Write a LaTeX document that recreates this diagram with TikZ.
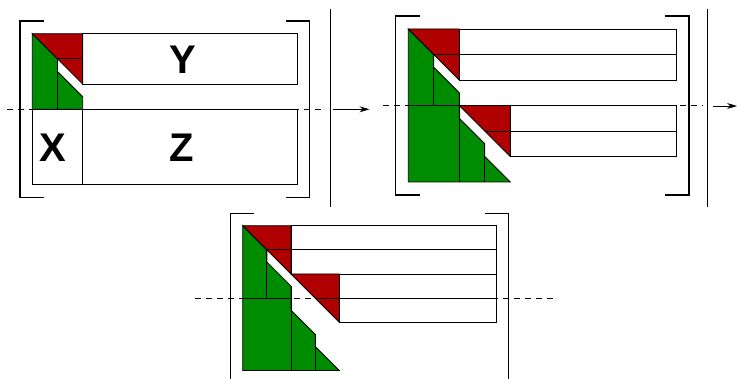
\documentclass[tikz,border=0pt]{standalone}
\usepackage{fontspec}
\setmainfont{Liberation Sans}
\usetikzlibrary{arrows.meta}
\definecolor{blkred}{RGB}{176,0,0}
\definecolor{blkgreen}{RGB}{0,140,0}
\tikzset{
  thinline/.style={line width=0.8pt,line join=miter},
  bracket/.style={line width=1.7pt,line join=miter},
  redtri/.style={fill=blkred,draw=black,line width=0.8pt},
  greenpart/.style={fill=blkgreen,draw=black,line width=0.8pt},
  boxline/.style={draw=black,line width=0.8pt},
  dashline/.style={line width=0.9pt,dash pattern=on 6pt off 5pt},
  sepline/.style={line width=1pt},
  flowarrow/.style={line width=0.8pt,-{Stealth[length=10pt,width=6pt]}},
  letter/.style={font=\fontsize{40}{40}\selectfont\bfseries,inner sep=0pt}
}
\newcommand\mybrackets{%
  \draw[bracket] (0.45,-0.5) -- (-0.5,-0.5) -- (-0.5,6.5) -- (0.45,6.5);
  \draw[bracket] (10.05,-0.5) -- (11,-0.5) -- (11,6.5) -- (10.05,6.5);
}
\newcommand\mygreen{%
  \filldraw[greenpart] (0,0) -- (1,1) -- (1,1.5) -- (2,2.5) -- (2,3.5) -- (3,4.5) -- (3,5) -- (4,6) -- (0,6) -- cycle;
  \draw[thinline] (0,3) -- (2,3);
  \draw[thinline] (1,1) -- (1,3);
  \draw[thinline] (2,2.5) -- (2,6);
  \draw[thinline] (3,4.5) -- (3,6);
}
\begin{document}
\begin{tikzpicture}[x=1pt,y=-1pt]
\useasboundingbox (0,0) rectangle (737,379);

% ---------- panel 1 ----------
\begin{scope}[shift={(32.3,33.7)},x=25.2pt,y=-25.2pt]
  \mybrackets
  \filldraw[greenpart] (0,0) -- (1,1) -- (1,1.5) -- (2,2.5) -- (2,3) -- (0,3) -- cycle;
  \filldraw[redtri] (0,0) -- (2,0) -- (2,2) -- cycle;
  \draw[thinline] (1,1) -- (2,1);
  \draw[thinline] (1,1) -- (1,3);
  \draw[boxline] (2,0) rectangle (10.5,2);
  \draw[boxline] (0,3) rectangle (2,6);
  \draw[boxline] (2,3) rectangle (10.5,6);
  \draw[dashline] (-1,3) -- (11.55,3);
  \node[letter] (Y) at (5.98,1.02) {Y};
  \node[letter] (Z) at (5.92,4.54) {Z};
  \node[letter] (X) at (0.83,4.54) {X};
\end{scope}

% ---------- panel 2 ----------
\begin{scope}[shift={(408.3,29)},x=25.5pt,y=-25.5pt]
  \mybrackets
  \mygreen
  \filldraw[redtri] (0,0) -- (2,0) -- (2,2) -- cycle;
  \draw[thinline] (1,1) -- (10.5,1);
  \draw[boxline] (2,0) rectangle (10.5,2);
  \filldraw[redtri] (2,3) -- (4,3) -- (4,5) -- cycle;
  \draw[thinline] (3,4) -- (10.5,4);
  \draw[boxline] (4,3) rectangle (10.5,5);
  \draw[dashline] (-1,3) -- (11.55,3);
\end{scope}

% ---------- panel 3 ----------
\begin{scope}[shift={(242.7,225.7)},x=24.15pt,y=-24.15pt]
  \mybrackets
  \mygreen
  \filldraw[redtri] (0,0) -- (2,0) -- (2,2) -- cycle;
  \draw[thinline] (1,1) -- (10.5,1);
  \draw[boxline] (2,0) rectangle (10.5,2);
  \filldraw[redtri] (2,2) -- (4,2) -- (4,4) -- cycle;
  \draw[thinline] (3,3) -- (10.5,3);
  \draw[boxline] (4,2) rectangle (10.5,4);
  \draw[dashline] (-1.97,3) -- (13,3);
\end{scope}

% ---------- separators and arrows ----------
\coordinate (s1t) at (330,9);
\coordinate (s1b) at (330,207);
\coordinate (s2t) at (707.7,9);
\coordinate (s2b) at (707.7,207);
\draw[sepline] (s1t) -- (s1b);
\draw[sepline] (s2t) -- (s2b);
\coordinate (a1s) at (333,109.3);
\coordinate (a1e) at (369.5,109.3);
\coordinate (a2s) at (712.7,106);
\coordinate (a2e) at (737,106);
\draw[flowarrow] (a1s) -- (a1e);
\draw[flowarrow] (a2s) -- (a2e);
\end{tikzpicture}
\end{document}
